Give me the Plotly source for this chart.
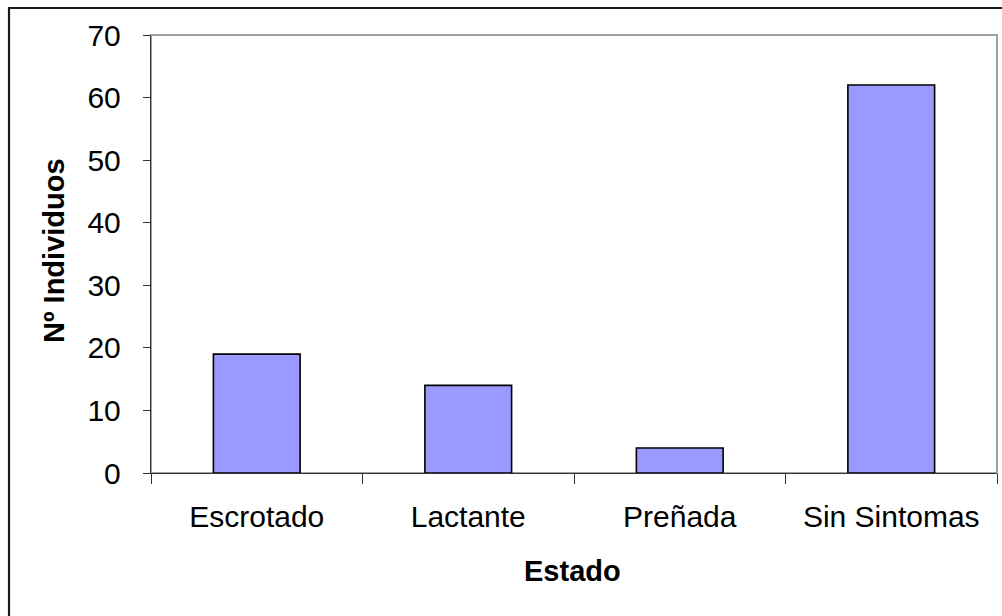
import plotly.graph_objects as go

# Individuals counted per reproductive state
estados = ["Escrotado", "Lactante", "Preñada", "Sin Sintomas"]
individuos = [19, 14, 4, 62]
y_ticks = [0, 10, 20, 30, 40, 50, 60, 70]

FONT = "Liberation Sans, Arial, sans-serif"

fig = go.Figure(
    go.Bar(
        x=estados,
        y=individuos,
        width=0.41,
        marker=dict(color="#9999FF", line=dict(color="#000000", width=1.6)),
        hoverinfo="x+y",
    )
)

fig.update_layout(
    width=1002,
    height=616,
    margin=dict(l=151, r=5, t=35, b=143),
    paper_bgcolor="#FFFFFF",
    plot_bgcolor="#FFFFFF",
    showlegend=False,
    font=dict(family=FONT, size=30, color="#000000"),
    bargap=0.59,
)

fig.update_xaxes(
    type="category",
    tickson="boundaries",
    ticks="outside",
    ticklen=10,
    tickwidth=1.2,
    tickcolor="#333333",
    showline=True,
    linecolor="#333333",
    linewidth=1.4,
    showgrid=False,
    zeroline=False,
    tickfont=dict(family=FONT, size=30, color="#000000"),
    ticklabelstandoff=17,
)

fig.update_yaxes(
    range=[0, 70],
    tickvals=y_ticks,
    ticktext=[str(v) for v in y_ticks],
    ticks="outside",
    ticklen=7,
    tickwidth=1.2,
    tickcolor="#333333",
    showline=True,
    linecolor="#333333",
    linewidth=1.4,
    showgrid=False,
    zeroline=False,
    tickfont=dict(family=FONT, size=30, color="#000000"),
    ticklabelstandoff=16,
)

# Gray frame around the plotting area and black outer chart border
fig.add_shape(
    type="rect", xref="paper", yref="paper",
    x0=0, x1=1, y0=0, y1=1,
    line=dict(color="#A0A0A0", width=2), layer="below",
)
fig.add_shape(
    type="rect", xref="paper", yref="paper",
    x0=(9 - 151) / 846, x1=(1012 - 151) / 846,
    y0=(473 - 630) / 438, y1=(473 - 8) / 438,
    line=dict(color="#1A1A1A", width=2.2), layer="above",
)

# Axis titles
fig.add_annotation(
    text="<b>Estado</b>", xref="paper", yref="paper",
    x=(572 - 151) / 846, y=(473 - 571) / 438,
    xanchor="center", yanchor="middle", showarrow=False,
    font=dict(family=FONT, size=29, color="#000000"),
)
fig.add_annotation(
    text="<b>Nº Individuos</b>", xref="paper", yref="paper",
    x=(54 - 151) / 846, y=(473 - 251) / 438,
    xanchor="center", yanchor="middle", showarrow=False, textangle=-90,
    font=dict(family=FONT, size=29, color="#000000"),
)

fig.write_html("out.html")
